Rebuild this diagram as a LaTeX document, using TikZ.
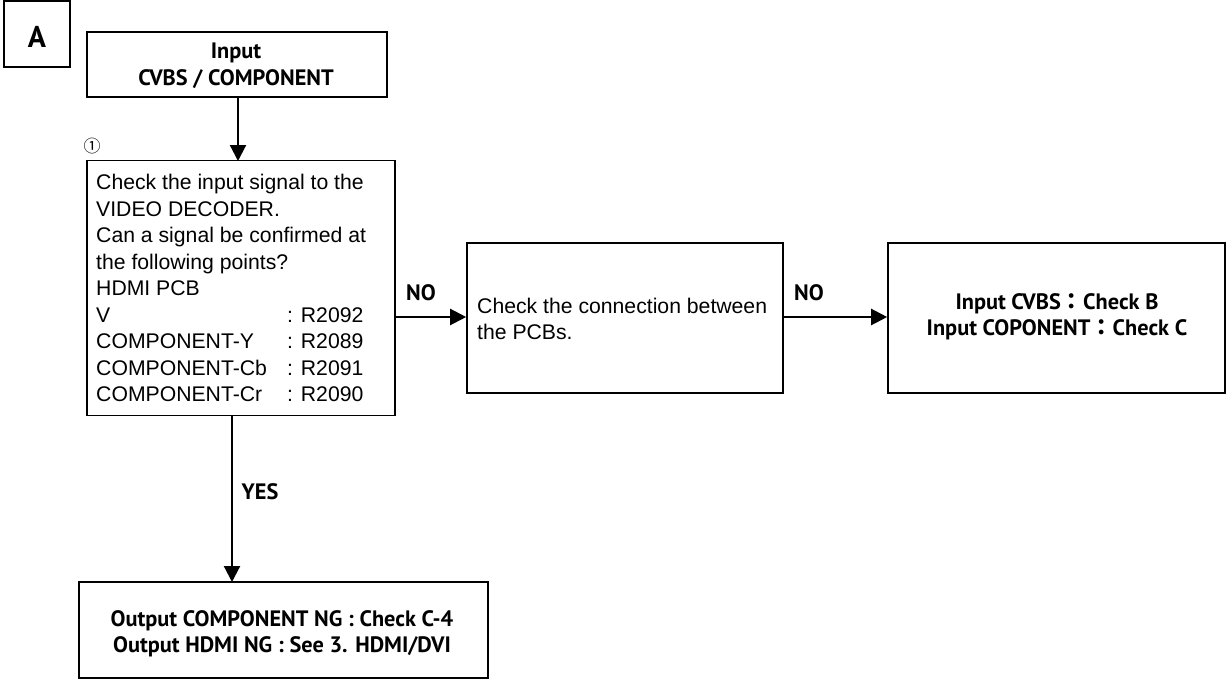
\documentclass[tikz,border=0pt]{standalone}
\usepackage{fontspec}
\setmainfont{Liberation Sans}
\newfontfamily\lblfont{PT Sans}
\newfontfamily\symfont{DejaVu Sans}
\newfontfamily\cjk{Noto Sans CJK JP}
\usetikzlibrary{arrows.meta}
\begin{document}
\begin{tikzpicture}[x=1pt,y=-1pt,
  box/.style={draw, line width=1.6pt, inner sep=0pt},
  lbl/.style={font=\lblfont\bfseries\fontsize{22.3}{26.5}\selectfont, align=center, inner sep=0pt},
  body/.style={font=\fontsize{21.2}{26.5}\selectfont, align=left, inner sep=0pt},
  conn/.style={line width=2.2pt, -{Triangle[length=16pt,width=16pt]}},
  plain/.style={line width=2.2pt}]
\useasboundingbox (0,0) rectangle (1227,680);

% A tag
\node[box, minimum width=66pt, minimum height=66pt] (tagA) at (37,34) {};
\node[lbl, font=\lblfont\bfseries\fontsize{30}{34}\selectfont] (tagAt) at (37,37) {A};

% Input box
\node[box, minimum width=300pt, minimum height=65pt] (inp) at (237,64.5) {};
\node[lbl] (inpt) at (236,66) {Input\\CVBS / COMPONENT};

% Check box
\node[box, minimum width=308pt, minimum height=255pt] (chk) at (241,288) {};
\node[font=\cjk\fontsize{17}{17}\selectfont, inner sep=0pt] (num) at (92,146) {①};
\node[body, anchor=north west] (chkt) at (96,174) {Check the input signal to the\\
VIDEO DECODER.\\
Can a signal be confirmed at\\
the following points?\\
HDMI PCB\\
\makebox[191pt][l]{V}: R2092\\
\makebox[191pt][l]{COMPONENT-Y}: R2089\\
\makebox[191pt][l]{COMPONENT-Cb}: R2091\\
\makebox[191pt][l]{COMPONENT-Cr}: R2090};

% Box 2
\node[box, minimum width=316pt, minimum height=150pt] (conb) at (625,318) {};
\node[body, anchor=north west] (conbt) at (477,297.5) {Check the connection between\\the PCBs.};

% Box 3
\node[box, minimum width=337pt, minimum height=150pt] (res) at (1056.5,318) {};
\node[lbl] (rest) at (1057,317) {Input CVBS{\cjk ：}Check B\\Input COPONENT{\cjk ：}Check C};

% Box 4
\node[box, minimum width=409pt, minimum height=96pt] (outb) at (283.5,630) {};
\node[lbl] (outbt) at (282,634) {Output COMPONENT NG : Check C-4\\Output HDMI NG : See 3. HDMI/DVI};

% Connectors
\coordinate (c1) at (238,97);
\coordinate (c2) at (238,161);
\draw[conn] (c1) -- (c2);

\draw[conn] (chk.east |- 0,317) -- (conb.west |- 0,317);
\node[lbl] (no1) at (421,293) {NO};

\draw[conn] (conb.east |- 0,317) -- (res.west |- 0,317);
\node[lbl] (no2) at (809,293) {NO};

\coordinate (c3) at (232,415);
\coordinate (c4) at (232,582);
\draw[conn] (c3) -- (c4);
\node[lbl] (yes) at (260,492) {YES};
\end{tikzpicture}
\end{document}
